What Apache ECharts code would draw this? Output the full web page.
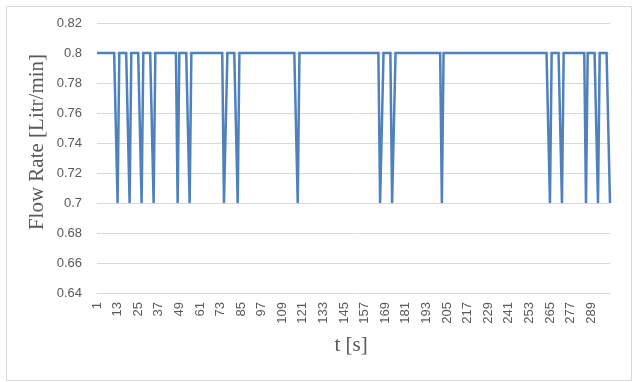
<!DOCTYPE html>
<html>
<head>
<meta charset="utf-8">
<script src="https://cdn.jsdelivr.net/npm/echarts@6/dist/echarts.min.js"></script>
<style>
  html, body { margin: 0; padding: 0; background: #ffffff; }
  #chart { width: 633px; height: 382px; }
</style>
</head>
<body>
<div id="chart"></div>
<script>
// Time axis categories: t = 1 .. 300 s
var firstT = 1;
var countT = 300;
var timeCategories = Array.from({ length: countT }, function (_, i) { return String(firstT + i); });

// Flow rate values [Litr/min] (t = 1..300)
var flowRate = [
  0.8,0.8,0.8,0.8,0.8,0.8,0.8,0.8,0.8,0.8,0.8,0.8,0.7,0.8,0.8,0.8,0.8,0.8,0.8,0.7,
  0.8,0.8,0.8,0.8,0.8,0.8,0.7,0.8,0.8,0.8,0.8,0.8,0.8,0.7,0.8,0.8,0.8,0.8,0.8,0.8,
  0.8,0.8,0.8,0.8,0.8,0.8,0.8,0.7,0.8,0.8,0.8,0.8,0.8,0.8,0.7,0.8,0.8,0.8,0.8,0.8,
  0.8,0.8,0.8,0.8,0.8,0.8,0.8,0.8,0.8,0.8,0.8,0.8,0.8,0.8,0.7,0.7,0.8,0.8,0.8,0.8,
  0.8,0.8,0.7,0.8,0.8,0.8,0.8,0.8,0.8,0.8,0.8,0.8,0.8,0.8,0.8,0.8,0.8,0.8,0.8,0.8,
  0.8,0.8,0.8,0.8,0.8,0.8,0.8,0.8,0.8,0.8,0.8,0.8,0.8,0.8,0.8,0.8,0.8,0.7,0.8,0.8,
  0.8,0.8,0.8,0.8,0.8,0.8,0.8,0.8,0.8,0.8,0.8,0.8,0.8,0.8,0.8,0.8,0.8,0.8,0.8,0.8,
  0.8,0.8,0.8,0.8,0.8,0.8,0.8,0.8,0.8,0.8,0.8,0.8,0.8,0.8,0.8,0.8,0.8,0.8,0.8,0.8,
  0.8,0.8,0.8,0.8,0.8,0.7,0.7,0.8,0.8,0.8,0.8,0.8,0.7,0.7,0.8,0.8,0.8,0.8,0.8,0.8,
  0.8,0.8,0.8,0.8,0.8,0.8,0.8,0.8,0.8,0.8,0.8,0.8,0.8,0.8,0.8,0.8,0.8,0.8,0.8,0.8,
  0.8,0.7,0.8,0.8,0.8,0.8,0.8,0.8,0.8,0.8,0.8,0.8,0.8,0.8,0.8,0.8,0.8,0.8,0.8,0.8,
  0.8,0.8,0.8,0.8,0.8,0.8,0.8,0.8,0.8,0.8,0.8,0.8,0.8,0.8,0.8,0.8,0.8,0.8,0.8,0.8,
  0.8,0.8,0.8,0.8,0.8,0.8,0.8,0.8,0.8,0.8,0.8,0.8,0.8,0.8,0.8,0.8,0.8,0.8,0.8,0.8,
  0.8,0.8,0.8,0.8,0.7,0.8,0.8,0.8,0.8,0.8,0.8,0.7,0.8,0.8,0.8,0.8,0.8,0.8,0.8,0.8,
  0.8,0.8,0.8,0.8,0.8,0.7,0.8,0.8,0.8,0.8,0.8,0.8,0.7,0.8,0.8,0.8,0.8,0.8,0.8,0.7
];

// Y axis ticks
var yMin = 0.64;
var yMax = 0.82;
var yStep = 0.02;

var yTitle = 'Flow Rate [Litr/min]';
var xTitle = 't [s]';

var chart = echarts.init(document.getElementById('chart'), null, { renderer: 'canvas' });
chart.setOption({
  animation: false,
  backgroundColor: '#ffffff',
  grid: { left: 97, right: 23, top: 23, bottom: 89, containLabel: false },
  xAxis: {
    type: 'category',
    data: timeCategories,
    boundaryGap: false,
    axisLine: { show: true, lineStyle: { color: '#d9d9d9', width: 1 } },
    axisTick: { show: false },
    axisLabel: {
      interval: 11,
      rotate: 90,
      color: '#595959',
      fontFamily: 'Liberation Sans',
      fontSize: 13,
      margin: 9
    },
    splitLine: { show: false }
  },
  yAxis: {
    type: 'value',
    min: yMin,
    max: yMax,
    interval: yStep,
    axisLine: { show: false },
    axisTick: { show: false },
    axisLabel: {
      color: '#595959',
      fontFamily: 'Liberation Sans',
      fontSize: 13,
      margin: 15,
      formatter: function (v) { return String(+v.toFixed(2)); }
    },
    splitLine: { show: true, lineStyle: { color: '#d9d9d9', width: 1 } }
  },
  graphic: [
    {
      type: 'rect',
      left: 4, top: 4,
      shape: { x: 0, y: 0, width: 625, height: 374 },
      style: { fill: 'none', stroke: '#d9d9d9', lineWidth: 1 },
      silent: true, z: -1
    },
    {
      type: 'text',
      x: 37, y: 142,
      rotation: Math.PI / 2,
      style: {
        text: yTitle,
        fill: '#595959',
        font: '21px "Liberation Serif"',
        textAlign: 'center',
        textVerticalAlign: 'middle'
      }
    },
    {
      type: 'text',
      x: 351, y: 345,
      style: {
        text: xTitle,
        fill: '#595959',
        font: '21px "Liberation Serif"',
        textAlign: 'center',
        textVerticalAlign: 'middle'
      }
    }
  ],
  series: [{
    type: 'line',
    data: flowRate,
    showSymbol: false,
    symbol: 'none',
    lineStyle: { color: '#4f81bd', width: 2.5, join: 'miter' },
    itemStyle: { color: '#4f81bd' }
  }]
});
</script>
</body>
</html>
